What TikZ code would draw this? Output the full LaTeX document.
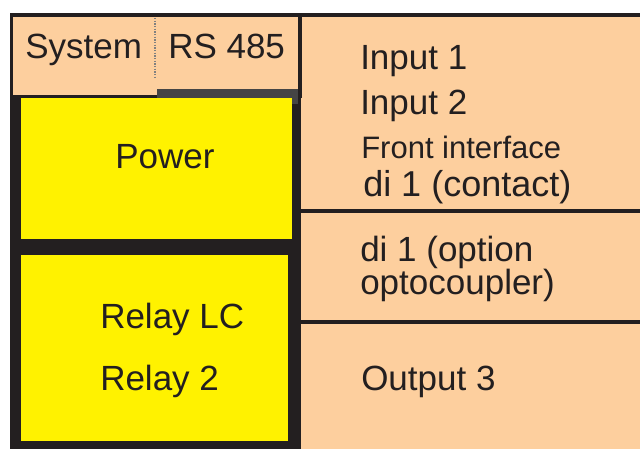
\documentclass[tikz,border=0pt]{standalone}
\usepackage{fontspec}
\setmainfont{Liberation Sans}
\definecolor{peach}{HTML}{FDCF9E}
\definecolor{yel}{HTML}{FFF200}
\definecolor{dark}{HTML}{231F20}
\definecolor{bar}{HTML}{454545}
\begin{document}
\begin{tikzpicture}[x=0.75pt,y=-0.75pt,
  lbl/.style={anchor=base west,inner sep=0pt,text=dark,font=\fontsize{26.25}{30}\selectfont},
  lblsmall/.style={lbl,font=\fontsize{23.25}{28}\selectfont},
  lblbig/.style={lbl,font=\fontsize{27}{31}\selectfont},
  sep/.style={draw=dark,line width=2.4pt}]
\useasboundingbox (0,0) rectangle (640,449);
\fill[white] (0,0) rectangle (640,449);
% right peach panel
\fill[peach] (300,13) rectangle (640,449);
% left dark body
\fill[dark] (10,13) rectangle (301,449);
% top border across
\fill[dark] (10,13) rectangle (640,17);
% top box
\fill[peach] (13,17) rectangle (298,95);
\fill[dark] (298,14) rectangle (302,98);
\draw[gray,densely dotted,line width=1pt] (155,18) -- (155,77);
\fill[bar] (157,89) rectangle (298,104);
% yellow boxes
\fill[yel] (21,98) rectangle (292,239);
\fill[yel] (21,255) rectangle (288,441);
% separators right
\draw[sep] (300,211) -- (640,211);
\draw[sep] (300,322) -- (640,322);
% texts
\node[lbl] (sys) at (25,59) {System};
\node[lbl] (rs) at (168,59) {RS 485};
\node[lbl] (pow) at (115,169) {Power};
\node[lbl] (rlc) at (100,329) {Relay LC};
\node[lbl] (r2) at (100,391) {Relay 2};
\node[lbl] (in1) at (360,70) {Input 1};
\node[lbl] (in2) at (360,115) {Input 2};
\node[lblsmall] (fi) at (361,159) {Front interface};
\node[lblbig] (dic) at (363,197) {di 1 (contact)};
\node[lbl] (dio) at (360,262) {di 1 (option};
\node[lbl] (opt) at (360,295) {optocoupler)};
\node[lbl] (out3) at (361,391) {Output 3};
\end{tikzpicture}
\end{document}
